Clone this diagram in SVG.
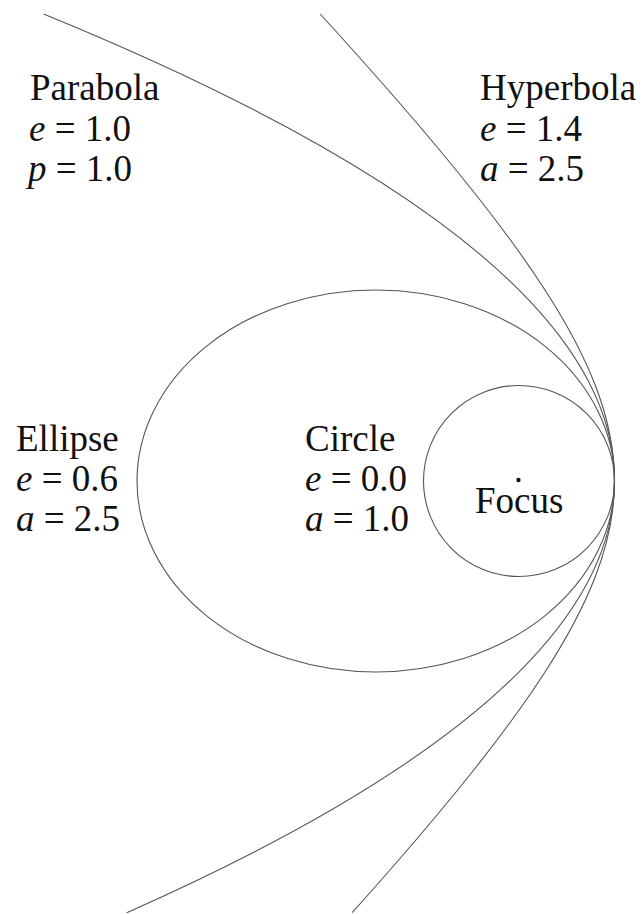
<svg xmlns="http://www.w3.org/2000/svg" width="643" height="914" viewBox="0 0 643 914">
  <style>
    .curve { fill: none; stroke: #555; stroke-width: 1.1; }
    .lbl { font-family: "Liberation Serif", "Times New Roman", serif; font-size: 37px; fill: #111; }
    .it { font-style: italic; }
  </style>
  <rect width="643" height="914" fill="#fff"/>
  <g id="curves">
    <path id="parabola-curve" class="curve" d="M 43.6 14 Q 1142.2 463.3 126.7 912.7"/>
    <path id="hyperbola-curve" class="curve" d="M 320.17 14 C 346.02 42.33 371.42 70.67 396.08 99 C 423.79 130.83 450.58 162.67 475.75 194.5 C 500.92 226.33 524.47 258.17 545.02 290 C 565.57 321.83 583.09 353.67 595.37 385.5 C 607.65 417.33 614.5 449.17 614.5 481 C 614.5 512.83 607.65 544.67 595.37 576.5 C 583.09 608.33 565.57 640.17 545.02 672 C 524.47 703.83 500.92 735.67 475.75 767.5 C 450.58 799.33 423.79 831.17 396.08 863 C 381.67 879.55 367 896.11 352.15 912.66"/>
    <ellipse id="ellipse-curve" class="curve" cx="375.75" cy="481" rx="238.75" ry="191"/>
    <circle id="circle-curve" class="curve" cx="519" cy="481" r="95.5"/>
  </g>
  <g id="parabola">
    <text class="lbl" x="30" y="100">Parabola</text>
    <text class="lbl" x="29" y="141"><tspan class="it">e</tspan> = 1.0</text>
    <text class="lbl" x="28" y="181"><tspan class="it">p</tspan> = 1.0</text>
  </g>
  <g id="hyperbola">
    <text class="lbl" x="480" y="100">Hyperbola</text>
    <text class="lbl" x="480" y="141"><tspan class="it">e</tspan> = 1.4</text>
    <text class="lbl" x="480" y="181"><tspan class="it">a</tspan> = 2.5</text>
  </g>
  <g id="ellipse">
    <text class="lbl" x="16" y="451">Ellipse</text>
    <text class="lbl" x="16" y="491"><tspan class="it">e</tspan> = 0.6</text>
    <text class="lbl" x="16" y="531"><tspan class="it">a</tspan> = 2.5</text>
  </g>
  <g id="circle">
    <text class="lbl" x="305" y="451">Circle</text>
    <text class="lbl" x="305" y="491"><tspan class="it">e</tspan> = 0.0</text>
    <text class="lbl" x="305" y="531"><tspan class="it">a</tspan> = 1.0</text>
  </g>
  <g id="focus">
    <circle cx="518.5" cy="480" r="2.2" fill="#111"/>
    <text class="lbl" x="475" y="513">Focus</text>
  </g>
</svg>
